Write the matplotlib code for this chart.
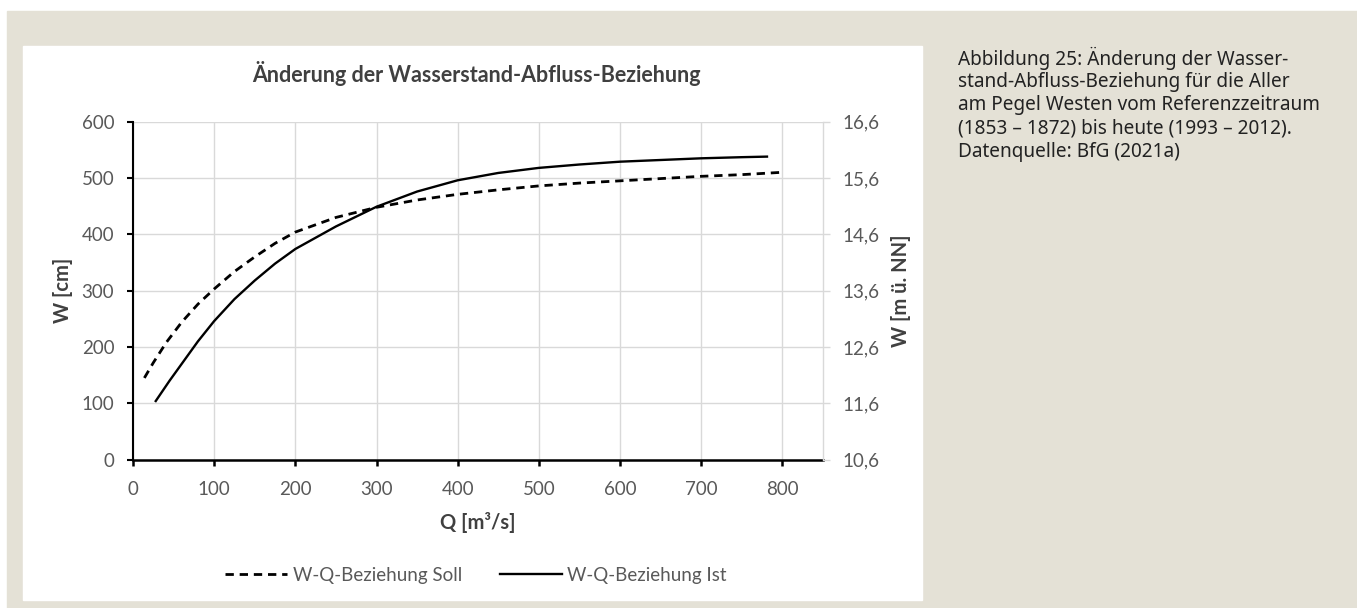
import matplotlib
matplotlib.use("Agg")
import matplotlib.pyplot as plt
from matplotlib.patches import Rectangle

# Soll (reference period)
q_soll = [14, 25, 41, 60, 80, 100, 125, 150, 175, 200, 250, 300, 350, 400, 450, 500, 550, 600, 650, 700, 750, 798]
w_soll = [145, 172, 208, 244, 276, 303, 334, 360, 384, 404, 430, 448, 461, 471, 479, 486, 491, 495, 499, 503, 506, 510]

# Ist (today)
q_ist = [28, 45, 61, 80, 100, 125, 150, 175, 200, 250, 300, 350, 400, 450, 500, 550, 600, 650, 700, 750, 781]
w_ist = [104, 140, 172, 210, 246, 285, 318, 348, 374, 414, 449, 476, 496, 509, 518, 524, 529, 532, 535, 537, 538]

x_ticks = [0, 100, 200, 300, 400, 500, 600, 700, 800]
y_ticks = [0, 100, 200, 300, 400, 500, 600]
y2_ticks = [10.6, 11.6, 12.6, 13.6, 14.6, 15.6, 16.6]
y2_labels = ["10,6", "11,6", "12,6", "13,6", "14,6", "15,6", "16,6"]

caption = [
    "Abbildung 25: Änderung der Wasser-",
    "stand-Abfluss-Beziehung für die Aller",
    "am Pegel Westen vom Referenzzeitraum",
    "(1853 – 1872) bis heute (1993 – 2012).",
    "Datenquelle: BfG (2021a)",
]

W, H = 1357, 608
plt.rcParams['font.family'] = ['Lato', 'DejaVu Sans']

fig = plt.figure(figsize=(W / 100, H / 100), dpi=100)
fig.patch.set_facecolor("white")

def px(x0, y0, x1, y1):
    # pixel box (top-left origin) -> figure fraction rect
    return (x0 / W, 1 - y1 / H), (x1 - x0) / W, (y1 - y0) / H

xy, w, h = px(7, 11, W, H)
fig.patches.append(Rectangle(xy, w, h, transform=fig.transFigure, color="#e4e1d6", zorder=-2))
xy, w, h = px(23, 46, 922, 600)
fig.patches.append(Rectangle(xy, w, h, transform=fig.transFigure, color="white", zorder=-1))

ax = fig.add_axes([133 / W, 1 - 459.6 / H, (823 - 133) / W, (459.6 - 121.7) / H])
ax.set_facecolor("none")

ax.plot(q_soll, w_soll, color="black", lw=2.0, linestyle=(0, (3.0, 2.1)), label="W-Q-Beziehung Soll")
ax.plot(q_ist, w_ist, color="black", lw=1.7, label="W-Q-Beziehung Ist")

ax.set_xlim(0, 850)
ax.set_ylim(0, 600)
ax.set_xticks(x_ticks)
ax.set_yticks(y_ticks)
ax.grid(True, color="#d9d9d9", lw=1)
ax.set_axisbelow(True)

for s in ["top", "right"]:
    ax.spines[s].set_visible(False)
ax.spines["left"].set_linewidth(1.5)
ax.spines["bottom"].set_linewidth(1.8)
ax.tick_params(axis="y", length=4.5, width=1.5, pad=9, labelsize=13.5, labelcolor="#595959")
ax.tick_params(axis="x", length=4.5, width=1.8, pad=11, labelsize=13.5, labelcolor="#595959")

ax.set_xlabel("Q [m³/s]", fontsize=14.5, fontweight="bold", color="#404040", labelpad=10)
ax.set_ylabel("W [cm]", fontsize=14.5, fontweight="bold", color="#404040", labelpad=6)

ax2 = ax.twinx()
ax2.set_ylim(10.6, 16.6)
ax2.set_yticks(y2_ticks)
ax2.set_yticklabels(y2_labels)
for s in ["top", "left", "bottom"]:
    ax2.spines[s].set_visible(False)
ax2.spines["right"].set_color("#d9d9d9")
ax2.spines["right"].set_linewidth(1)
ax2.tick_params(axis="y", length=5, width=1, color="#d9d9d9", pad=9, labelsize=13.5, labelcolor="#595959")
ax2.set_ylabel("W [m ü. NN]", fontsize=14.5, fontweight="bold", color="#404040", labelpad=8, rotation=90)

fig.text(476 / W, 1 - 74 / H, "Änderung der Wasserstand-Abfluss-Beziehung",
         ha="center", va="center", fontsize=15.5, fontweight="bold", color="#404040")

fig.legend(loc="center", bbox_to_anchor=(476 / W, 1 - 575 / H), ncol=2, frameon=False,
           fontsize=13.5, handlelength=3.3, handletextpad=0.3, columnspacing=2.0,
           labelcolor="#595959")

for i, line in enumerate(caption):
    fig.text(958 / W, 1 - (58 + i * 23.5) / H, line, ha="left", va="center",
             fontsize=13.7, color="#222222", family=["Noto Sans", "DejaVu Sans"])

fig.savefig("out.png", dpi=100)
